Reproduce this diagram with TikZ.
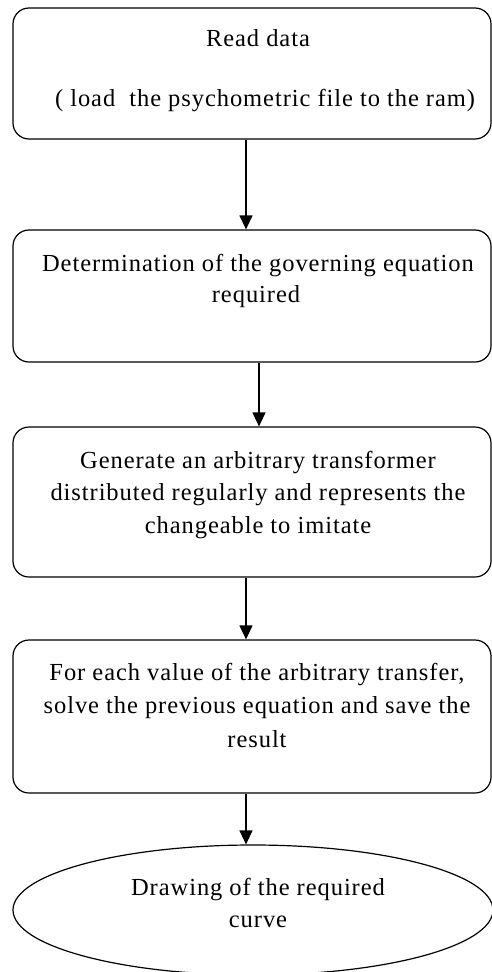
\documentclass[tikz,border=0pt]{standalone}
\usepackage{fontspec}
\setmainfont{Liberation Serif}[LetterSpace=3.8]
\usetikzlibrary{arrows.meta,shapes.geometric}
\begin{document}
\begin{tikzpicture}[x=1pt,y=-1pt,
  stepbox/.style={draw,line width=1.2pt,rounded corners=16pt,inner sep=0pt,minimum width=478pt},
  endbox/.style={draw,ellipse,line width=1.2pt,inner sep=0pt,minimum width=480pt,minimum height=130pt},
  lbl/.style={inner sep=0pt,anchor=base,font=\fontsize{24.5}{32}\selectfont},
  arr/.style={line width=1.2pt,-{Triangle[length=14pt,width=13pt]}}]
\useasboundingbox (0,0) rectangle (492,972);
% boxes
\node[stepbox,minimum height=131pt] (b1) at (252,73.5) {};
\node[stepbox,minimum height=132pt] (b2) at (252,296) {};
\node[stepbox,minimum height=150pt] (b3) at (252,502) {};
\node[stepbox,minimum height=153pt] (b4) at (252,716.5) {};
\node[endbox] (e) at (253,910) {};
% texts
\node[lbl] (t1a) at (258,46) {Read data};
\node[lbl] (t1b) at (265,106) {(\ load\ \ the psychometric file to the ram)};
\node[lbl] (t2a) at (258,271) {Determination of the governing equation};
\node[lbl] (t2b) at (256,302) {required};
\node[lbl] (t3a) at (258,468) {Generate an arbitrary transformer};
\node[lbl] (t3b) at (258,500) {distributed regularly and represents the};
\node[lbl] (t3c) at (258,533) {changeable to imitate};
\node[lbl] (t4a) at (257,680) {For each value of the arbitrary transfer,};
\node[lbl] (t4b) at (257,713) {solve the previous equation and save the};
\node[lbl] (t4c) at (257,747) {result};
\node[lbl] (t5a) at (258,895) {Drawing of the required};
\node[lbl] (t5b) at (258,927) {curve};
% arrows
\draw[arr] ([xshift=-6pt]b1.south) -- ([xshift=-6pt]b2.north);
\draw[arr] ([xshift=7pt]b2.south) -- ([xshift=7pt]b3.north);
\draw[arr] ([xshift=-6pt]b3.south) -- ([xshift=-6pt]b4.north);
\draw[arr] ([xshift=-6pt]b4.south) -- ([xshift=-7pt]e.north);
\end{tikzpicture}
\end{document}
